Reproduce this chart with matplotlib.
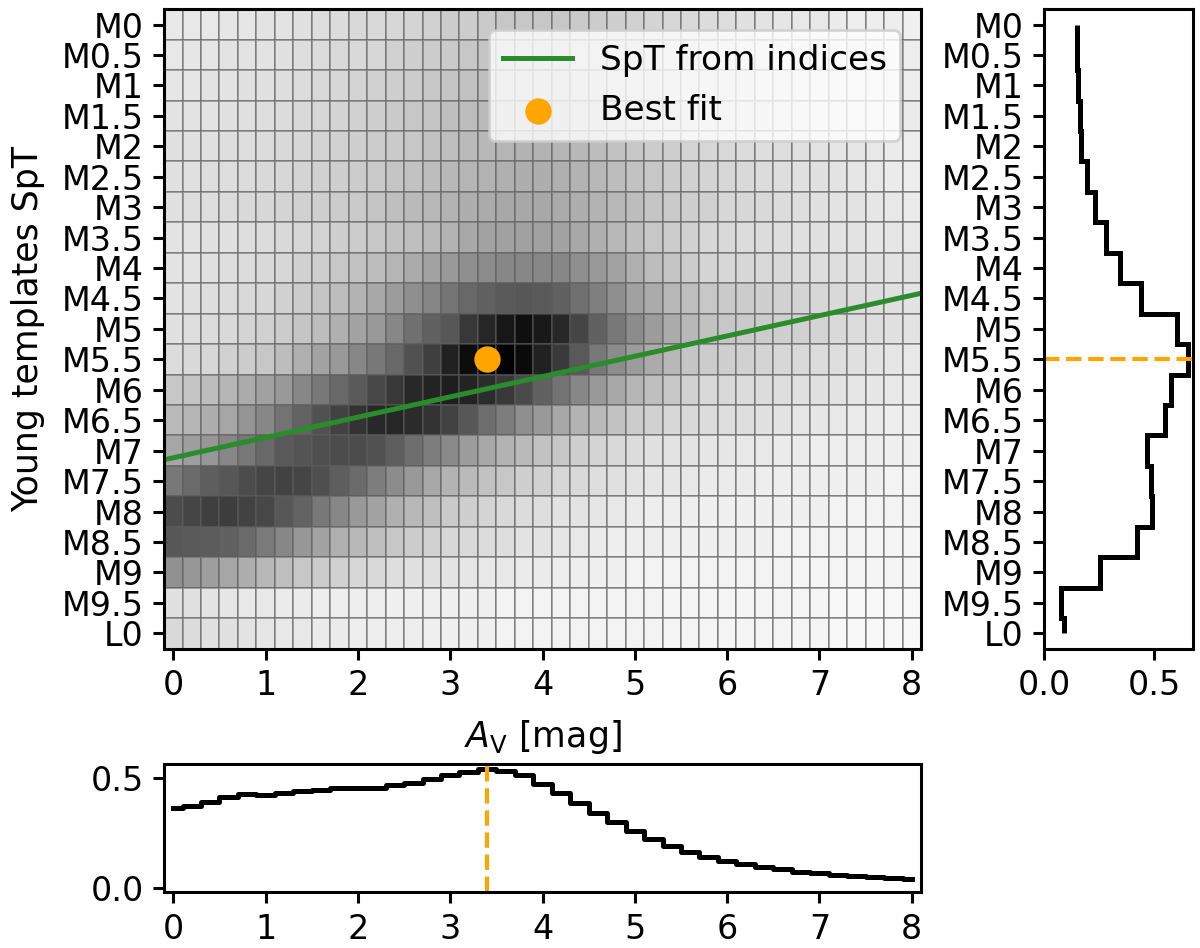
import numpy as np
import matplotlib
matplotlib.use("Agg")
import matplotlib.pyplot as plt

# ---------------- data ----------------
spt_labels = ['M0', 'M0.5', 'M1', 'M1.5', 'M2', 'M2.5', 'M3', 'M3.5', 'M4', 'M4.5',
              'M5', 'M5.5', 'M6', 'M6.5', 'M7', 'M7.5', 'M8', 'M8.5', 'M9', 'M9.5', 'L0']

av_values = [0.0, 0.2, 0.4, 0.6, 0.8, 1.0, 1.2, 1.4, 1.6, 1.8, 2.0, 2.2, 2.4, 2.6,
             2.8, 3.0, 3.2, 3.4, 3.6, 3.8, 4.0, 4.2, 4.4, 4.6, 4.8, 5.0, 5.2, 5.4,
             5.6, 5.8, 6.0, 6.2, 6.4, 6.6, 6.8, 7.0, 7.2, 7.4, 7.6, 7.8, 8.0]

# relative likelihood grid (percent), one list per template SpT row
grid_M0   = [9, 9, 9, 10, 10, 11, 11, 12, 13, 14, 15, 15, 16, 17, 18, 20, 20, 21, 22, 22, 22, 22, 21, 20, 19, 18, 17, 16, 15, 14, 13, 12, 11, 10, 9, 9, 8, 7, 7, 7, 6]
grid_M0p5 = [9, 10, 10, 11, 11, 11, 12, 13, 14, 15, 15, 16, 18, 19, 20, 21, 22, 23, 24, 24, 24, 24, 23, 22, 21, 20, 18, 17, 16, 15, 14, 13, 12, 11, 11, 10, 9, 8, 8, 7, 7]
grid_M1   = [10, 10, 11, 11, 12, 12, 13, 14, 15, 16, 17, 18, 19, 20, 22, 23, 24, 25, 26, 26, 26, 26, 25, 24, 22, 21, 20, 18, 17, 16, 15, 14, 13, 12, 11, 10, 10, 9, 8, 8, 7]
grid_M1p5 = [11, 11, 11, 12, 12, 13, 14, 15, 16, 17, 18, 19, 21, 22, 23, 25, 26, 27, 28, 29, 29, 28, 27, 26, 24, 23, 21, 20, 18, 17, 16, 15, 14, 13, 12, 11, 10, 9, 9, 8, 8]
grid_M2   = [12, 12, 12, 13, 13, 14, 15, 16, 17, 18, 19, 20, 21, 22, 24, 25, 27, 28, 29, 30, 30, 29, 28, 26, 24, 22, 20, 19, 17, 16, 15, 14, 13, 13, 12, 11, 10, 10, 9, 8, 7]
grid_M2p5 = [12, 12, 13, 13, 14, 15, 16, 17, 18, 19, 20, 21, 23, 24, 26, 28, 29, 30, 31, 32, 32, 31, 30, 28, 26, 24, 22, 20, 18, 17, 16, 15, 14, 13, 12, 12, 11, 10, 9, 8, 7]
grid_M3   = [12, 13, 13, 14, 15, 16, 17, 18, 19, 20, 21, 23, 25, 27, 28, 30, 32, 33, 34, 34, 34, 33, 32, 30, 28, 26, 23, 21, 19, 18, 16, 16, 15, 14, 13, 12, 11, 11, 10, 9, 8]
grid_M3p5 = [11, 11, 12, 12, 13, 14, 15, 16, 17, 19, 20, 22, 24, 25, 27, 30, 34, 36, 37, 37, 37, 36, 34, 31, 28, 25, 22, 20, 18, 16, 15, 14, 14, 13, 12, 12, 11, 11, 10, 10, 9]
grid_M4   = [11, 11, 12, 13, 14, 15, 16, 18, 19, 22, 24, 26, 29, 33, 36, 40, 44, 45, 47, 47, 47, 47, 44, 40, 36, 31, 26, 23, 20, 17, 16, 16, 15, 15, 14, 13, 13, 12, 12, 11, 11]
grid_M4p5 = [11, 12, 13, 14, 15, 16, 18, 20, 23, 26, 30, 34, 39, 44, 48, 54, 59, 62, 65, 66, 65, 62, 56, 50, 44, 37, 33, 28, 25, 22, 21, 20, 19, 18, 17, 16, 15, 14, 13, 12, 11]
grid_M5   = [12, 13, 14, 15, 17, 18, 20, 23, 26, 31, 36, 40, 47, 56, 62, 66, 78, 85, 91, 94, 90, 84, 73, 62, 53, 45, 39, 33, 28, 24, 22, 21, 20, 19, 18, 17, 15, 14, 13, 12, 11]
grid_M5p5 = [14, 15, 16, 18, 20, 22, 26, 31, 36, 40, 47, 53, 59, 68, 75, 87, 95, 100, 99, 96, 87, 77, 65, 53, 45, 39, 33, 28, 23, 20, 19, 18, 17, 16, 15, 14, 13, 12, 11, 10, 9]
grid_M6   = [22, 23, 26, 29, 33, 37, 40, 47, 53, 59, 65, 72, 78, 84, 86, 88, 86, 83, 78, 71, 62, 55, 47, 40, 34, 29, 25, 22, 18, 15, 15, 14, 14, 13, 12, 12, 11, 10, 10, 9, 8]
grid_M6p5 = [27, 29, 32, 35, 42, 47, 55, 61, 68, 74, 80, 84, 85, 83, 80, 74, 66, 57, 51, 44, 40, 34, 30, 27, 24, 20, 18, 16, 15, 14, 13, 13, 12, 11, 10, 10, 9, 8, 8, 7, 7]
grid_M7   = [35, 38, 41, 47, 53, 59, 65, 67, 69, 70, 70, 68, 63, 57, 51, 46, 39, 34, 30, 27, 24, 22, 19, 17, 15, 14, 12, 11, 11, 10, 10, 9, 9, 8, 8, 7, 7, 7, 7, 6, 6]
grid_M7p5 = [53, 58, 63, 66, 70, 73, 74, 73, 69, 63, 58, 51, 45, 40, 34, 30, 27, 24, 22, 19, 18, 16, 15, 13, 12, 11, 10, 10, 9, 8, 8, 8, 7, 7, 7, 7, 6, 6, 6, 5, 5]
grid_M8   = [70, 73, 75, 76, 74, 72, 66, 61, 53, 47, 40, 36, 31, 28, 25, 21, 19, 17, 15, 14, 13, 11, 11, 10, 9, 8, 7, 7, 7, 6, 6, 6, 6, 6, 6, 6, 5, 5, 5, 5, 5]
grid_M8p5 = [66, 65, 64, 62, 58, 52, 47, 41, 36, 31, 28, 25, 22, 20, 18, 16, 15, 14, 13, 11, 11, 10, 9, 8, 7, 7, 7, 6, 6, 6, 6, 6, 6, 5, 5, 5, 5, 5, 4, 4, 4]
grid_M9   = [43, 41, 38, 35, 32, 28, 25, 22, 20, 18, 16, 15, 13, 12, 12, 11, 10, 9, 9, 8, 8, 7, 7, 6, 6, 5, 5, 5, 5, 5, 5, 5, 5, 5, 4, 4, 4, 4, 4, 4, 4]
grid_M9p5 = [12, 12, 11, 10, 9, 9, 8, 8, 7, 7, 7, 7, 6, 6, 6, 6, 6, 6, 5, 5, 5, 5, 5, 5, 5, 5, 5, 4, 4, 4, 4, 4, 4, 4, 4, 4, 3, 3, 3, 3, 3]
grid_L0   = [15, 14, 12, 12, 11, 10, 9, 9, 8, 8, 7, 7, 7, 7, 6, 6, 6, 6, 5, 5, 5, 5, 5, 5, 5, 5, 5, 4, 4, 4, 4, 4, 4, 4, 4, 4, 3, 3, 3, 3, 3]

# marginal over Av for each SpT (right panel)
spt_marginal = [0.148, 0.152, 0.154, 0.162, 0.170, 0.196, 0.231, 0.283, 0.345, 0.441,
                0.606, 0.655, 0.580, 0.550, 0.470, 0.485, 0.492, 0.424, 0.256, 0.079, 0.090]

# marginal over SpT for each Av (bottom panel)
av_marginal = [0.363, 0.373, 0.393, 0.413, 0.427, 0.424, 0.434, 0.442, 0.447, 0.457,
               0.457, 0.457, 0.470, 0.477, 0.495, 0.515, 0.527, 0.543, 0.535, 0.515,
               0.473, 0.431, 0.389, 0.343, 0.302, 0.261, 0.223, 0.191, 0.165, 0.142,
               0.123, 0.108, 0.096, 0.085, 0.073, 0.066, 0.059, 0.055, 0.047, 0.043, 0.038]

# SpT from indices as a function of Av (index along the SpT axis)
indices_av = [-0.1, 8.1]
indices_spt = [14.30, 8.83]

best_fit_av = 3.4
best_fit_spt = 'M5.5'

# ---------------- figure ----------------
plt.rcParams.update({
    'font.family': ['DejaVu Sans'],
    'font.size': 12,
    'axes.linewidth': 1.1,
    'xtick.major.width': 1.1,
    'ytick.major.width': 1.1,
    'xtick.major.size': 3.8,
    'ytick.major.size': 3.8,
})

fig = plt.figure(figsize=(6.0, 4.74), dpi=200)
ax_main = fig.add_axes([0.1367, 0.3159, 0.6308, 0.6743])
ax_right = fig.add_axes([0.870, 0.3159, 0.1238, 0.6743])
ax_bot = fig.add_axes([0.1367, 0.0588, 0.6308, 0.1353])

grid = np.array([grid_M0, grid_M0p5, grid_M1, grid_M1p5, grid_M2, grid_M2p5, grid_M3,
                 grid_M3p5, grid_M4, grid_M4p5, grid_M5, grid_M5p5, grid_M6, grid_M6p5,
                 grid_M7, grid_M7p5, grid_M8, grid_M8p5, grid_M9, grid_M9p5, grid_L0])
spt_idx = np.arange(len(spt_labels))
best_idx = spt_labels.index(best_fit_spt)

ax_main.pcolormesh(av_values, spt_idx, grid, cmap='gray_r', vmin=0, vmax=100,
                   shading='nearest', edgecolors=(0.36, 0.36, 0.36, 0.5),
                   linewidth=0.7)
ax_main.plot(indices_av, indices_spt, color='#2a8c2a', lw=1.8,
             label='SpT from indices')
ax_main.scatter([best_fit_av], [best_idx], s=72, color='orange', zorder=4,
                label='Best fit')
ax_main.set_xlim(-0.1, 8.1)
ax_main.set_ylim(20.5, -0.5)
ax_main.set_xticks(range(0, 9))
ax_main.set_yticks(spt_idx)
ax_main.set_yticklabels(spt_labels)
ax_main.set_xlabel(r'$A_\mathrm{V}$ [mag]', fontsize=12.5, labelpad=6)
ax_main.set_ylabel('Young templates SpT', fontsize=12.5, labelpad=6)
ax_main.legend(loc='upper right', fontsize=12.4, borderaxespad=0.6)

# right marginal
edges = np.concatenate([[0.0], np.arange(0.5, len(spt_labels) - 1, 1.0),
                        [len(spt_labels) - 1.0]])
ax_right.stairs(spt_marginal, edges, orientation='horizontal', baseline=None,
                color='black', lw=1.8)
ax_right.axhline(best_idx, color='orange', ls='--', lw=1.5)
ax_right.set_ylim(20.5, -0.5)
ax_right.set_xlim(0, 0.676)
ax_right.set_yticks(spt_idx)
ax_right.set_yticklabels(spt_labels)
ax_right.set_xticks([0.0, 0.5])
ax_right.set_xticklabels(['0.0', '0.5'])

# bottom marginal
ax_bot.plot(av_values, av_marginal, drawstyle='steps-mid', color='black', lw=1.8)
ax_bot.axvline(best_fit_av, color='orange', ls='--', lw=1.5)
ax_bot.set_xlim(-0.1, 8.1)
ax_bot.set_ylim(-0.021, 0.5655)
ax_bot.set_xticks(range(0, 9))
ax_bot.set_yticks([0.0, 0.5])
ax_bot.set_yticklabels(['0.0', '0.5'])

fig.savefig('out.png', dpi=200)
